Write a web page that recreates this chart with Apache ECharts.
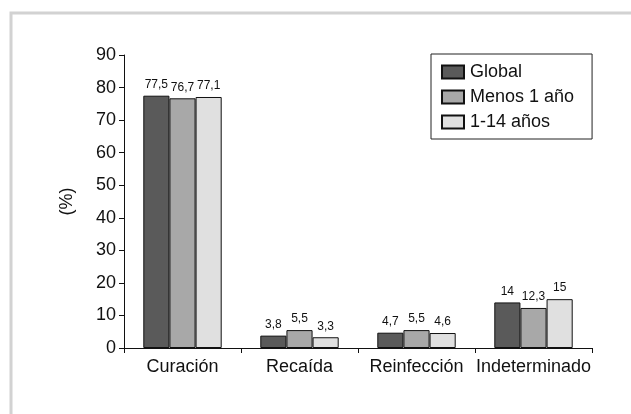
<!DOCTYPE html>
<html>
<head>
<meta charset="utf-8">
<script src="https://cdn.jsdelivr.net/npm/echarts@6/dist/echarts.min.js"></script>
<style>
  html, body { margin: 0; padding: 0; background: #fff; }
  #chart { width: 631px; height: 414px; }
</style>
</head>
<body>
<div id="chart"></div>
<script>
const categories = ['Curación', 'Recaída', 'Reinfección', 'Indeterminado'];
const globalValues = [77.5, 3.8, 4.7, 14];
const menos1Values = [76.7, 5.5, 5.5, 12.3];
const años1a14Values = [77.1, 3.3, 4.6, 15];
const seriesNames = ['Global', 'Menos 1 año', '1-14 años'];
const seriesColors = ['#5a5a5a', '#a8a8a8', '#e0e0e0'];

const FONT = 'Liberation Sans, Arial, sans-serif';
const fmt = p => String(p.value).replace('.', ',');

function bar(name, data, color) {
  return {
    name: name,
    type: 'bar',
    data: data,
    barGap: '0%',
    barCategoryGap: '33%',
    itemStyle: { color: color, borderColor: '#111', borderWidth: 1 },
    label: {
      show: true, position: 'top', distance: 5,
      formatter: fmt, fontFamily: FONT, fontSize: 12, color: '#111'
    }
  };
}

const chart = echarts.init(document.getElementById('chart'), null, { renderer: 'canvas' });
chart.setOption({
  animation: false,
  backgroundColor: '#fff',
  graphic: [{
    type: 'rect',
    shape: { x: 11, y: 13, width: 640, height: 420 },
    style: { fill: 'none', stroke: '#d2d2d2', lineWidth: 3 },
    silent: true
  }],
  grid: { left: 124, right: 39, top: 55, bottom: 66 },
  legend: {
    orient: 'vertical',
    left: 431, top: 54,
    padding: [9, 18, 8, 10],
    borderColor: '#222', borderWidth: 1,
    itemWidth: 22, itemHeight: 13, itemGap: 7,
    icon: 'rect',
    textStyle: { fontFamily: FONT, fontSize: 18, color: '#111', padding: [0, 0, 0, 1] },
    data: seriesNames
  },
  xAxis: {
    type: 'category',
    data: categories,
    axisLine: { lineStyle: { color: '#111', width: 1 } },
    axisTick: { show: true, length: 5, lineStyle: { color: '#111' } },
    axisLabel: { interval: 0, fontFamily: FONT, fontSize: 18, color: '#111', margin: 10 }
  },
  yAxis: {
    type: 'value',
    min: 0, max: 90, interval: 10,
    name: '(%)',
    nameLocation: 'middle',
    nameGap: 48,
    nameRotate: 90,
    nameTextStyle: { fontFamily: FONT, fontSize: 18, color: '#111' },
    splitLine: { show: false },
    axisLine: { show: true, lineStyle: { color: '#111', width: 1 } },
    axisTick: { show: true, length: 5, lineStyle: { color: '#111' } },
    axisLabel: { fontFamily: FONT, fontSize: 18, color: '#111', margin: 8 }
  },
  series: [
    bar(seriesNames[0], globalValues, seriesColors[0]),
    bar(seriesNames[1], menos1Values, seriesColors[1]),
    bar(seriesNames[2], años1a14Values, seriesColors[2])
  ]
});
</script>
</body>
</html>
